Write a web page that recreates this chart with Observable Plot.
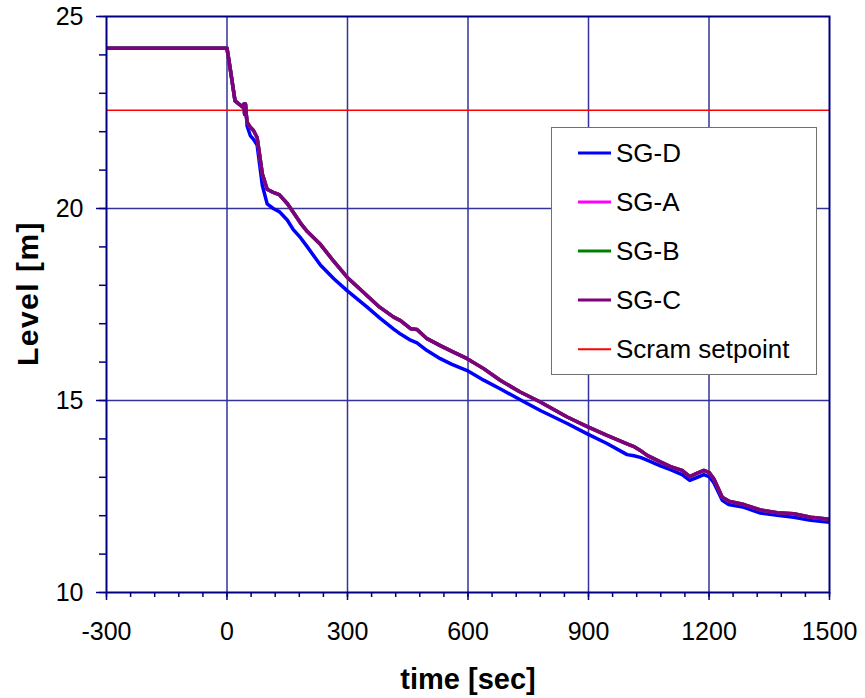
<!DOCTYPE html>
<html>
<head>
<meta charset="utf-8">
<script src="https://cdn.jsdelivr.net/npm/d3@7"></script>
<script src="https://cdn.jsdelivr.net/npm/@observablehq/plot@0.6"></script>
<style>
  body { margin: 0; background: #fff; font-family: "Liberation Sans", Arial, sans-serif; }
  #chart { position: relative; width: 865px; height: 698px; }
  .legend { position: absolute; left: 551px; top: 127px; width: 264px; height: 246px;
            border: 1.5px solid #707070; background: #fff; }
  .row { position: relative; height: 49.2px; }
  .row .sw { position: absolute; left: 26px; top: 50%; width: 33px; transform: translateY(-50%); }
  .row span { position: absolute; left: 64px; top: 50%; transform: translateY(-50%);
              font-size: 26px; line-height: 1; color: #000; white-space: nowrap; }
</style>
</head>
<body>
<div id="chart"></div>
<script>
// Steam generator level transient: time [s] and level [m] for each SG
const time = [-300, 0, 10, 20, 30, 38, 42, 44, 46, 48, 50, 58, 66, 75, 88, 100, 115, 130, 150, 165,
  183, 200, 233, 266, 299, 349, 380, 415, 432, 457, 473, 498, 531, 560, 598, 639, 681, 730, 780, 847,
  897, 946, 996, 1013, 1029, 1046, 1079, 1104, 1133, 1152, 1171, 1187, 1200, 1212, 1233, 1249, 1287,
  1328, 1370, 1411, 1453, 1500];

const sgD = [24.17, 24.17, 23.5, 22.8, 22.72, 22.65, 22.72, 22.45, 22.72, 22.45, 22.15, 21.9, 21.8, 21.65,
  20.6, 20.12, 20.0, 19.92, 19.7, 19.45, 19.24, 19.0, 18.52, 18.17, 17.86, 17.43, 17.15, 16.86, 16.73,
  16.57, 16.5, 16.30, 16.09, 15.94, 15.78, 15.53, 15.3, 15.02, 14.74, 14.4, 14.13, 13.88, 13.59, 13.56,
  13.52, 13.45, 13.30, 13.20, 13.07, 12.92, 13.00, 13.07, 13.02, 12.86, 12.40, 12.29, 12.22, 12.07,
  12.01, 11.96, 11.88, 11.83];

const sgA = [24.17, 24.17, 23.5, 22.8, 22.72, 22.65, 22.72, 22.45, 22.72, 22.45, 22.25, 22.12, 22.03, 21.85,
  20.9, 20.5, 20.42, 20.36, 20.13, 19.9, 19.62, 19.4, 19.06, 18.62, 18.21, 17.73, 17.43, 17.17, 17.08,
  16.87, 16.85, 16.61, 16.43, 16.28, 16.09, 15.83, 15.52, 15.22, 14.96, 14.57, 14.32, 14.09, 13.87, 13.80,
  13.70, 13.57, 13.40, 13.28, 13.18, 13.02, 13.11, 13.18, 13.13, 12.96, 12.48, 12.38, 12.29, 12.15,
  12.08, 12.05, 11.96, 11.91];

const sgB = [24.17, 24.17, 23.5, 22.8, 22.72, 22.65, 22.72, 22.45, 22.72, 22.45, 22.25, 22.12, 22.03, 21.85,
  20.9, 20.5, 20.42, 20.36, 20.13, 19.9, 19.62, 19.4, 19.06, 18.62, 18.21, 17.73, 17.43, 17.17, 17.08,
  16.87, 16.85, 16.61, 16.43, 16.28, 16.09, 15.83, 15.52, 15.22, 14.96, 14.57, 14.32, 14.09, 13.87, 13.80,
  13.70, 13.57, 13.40, 13.28, 13.18, 13.02, 13.11, 13.18, 13.13, 12.96, 12.48, 12.38, 12.29, 12.15,
  12.08, 12.05, 11.96, 11.91];

const sgC = [24.17, 24.17, 23.5, 22.8, 22.72, 22.65, 22.72, 22.45, 22.72, 22.45, 22.25, 22.12, 22.03, 21.85,
  20.9, 20.5, 20.42, 20.36, 20.13, 19.9, 19.62, 19.4, 19.06, 18.62, 18.21, 17.73, 17.43, 17.17, 17.08,
  16.87, 16.85, 16.61, 16.43, 16.28, 16.09, 15.83, 15.52, 15.22, 14.96, 14.57, 14.32, 14.09, 13.87, 13.80,
  13.70, 13.57, 13.40, 13.28, 13.18, 13.02, 13.11, 13.18, 13.13, 12.96, 12.48, 12.38, 12.29, 12.15,
  12.08, 12.05, 11.96, 11.91];

const scramSetpoint = 22.56;

const seriesNames = ["SG-D", "SG-A", "SG-B", "SG-C"];
const seriesColors = ["#0000ff", "#ff00ff", "#008000", "#800080"];
const scramLabel = "Scram setpoint";
const scramColor = "#ff0000";

const xTicks = [-300, 0, 300, 600, 900, 1200, 1500];
const xMinorTicks = d3.range(-300, 1501, 60);
const yTicks = [10, 15, 20, 25];
const yMinorTicks = d3.range(10, 26, 1);
const xTitle = "time [sec]";
const yTitle = "Level [m]";

// Long-format rows, drawn in legend order so SG-C ends up on top
const seriesLevels = [sgD, sgA, sgB, sgC];
const rows = seriesNames.flatMap((name, k) =>
  time.map((t, i) => ({ name, t, level: seriesLevels[k][i] })));

const navy = "#000080";
const grid = "#333399";

const chart = Plot.plot({
  width: 865,
  height: 698,
  marginLeft: 106,
  marginRight: 36,
  marginTop: 16,
  marginBottom: 106,
  style: { fontFamily: "'Liberation Sans', Arial, sans-serif", background: "#fff", color: "#000" },
  x: { domain: [-300, 1500] },
  y: { domain: [10, 25] },
  color: { domain: seriesNames, range: seriesColors },
  marks: [
    Plot.ruleX(xTicks.slice(1, -1), { stroke: grid, strokeWidth: 1.5 }),
    Plot.ruleY(yTicks.slice(1, -1), { stroke: grid, strokeWidth: 1.5 }),
    Plot.ruleY([scramSetpoint], { stroke: scramColor, strokeWidth: 1.5 }),
    Plot.line(rows, { x: "t", y: "level", z: "name", stroke: "name", strokeWidth: 3.5,
                      strokeLinejoin: "round", strokeLinecap: "butt" }),
    Plot.frame({ stroke: navy, strokeWidth: 2 }),
    Plot.axisX(xMinorTicks, { tickSize: 5, tickFormat: () => "", stroke: navy, strokeWidth: 1.5, label: null }),
    Plot.axisY(yMinorTicks, { tickSize: 7, tickFormat: () => "", stroke: navy, strokeWidth: 1.5, label: null }),
    Plot.axisX(xTicks, { tickSize: 8, tickPadding: 22, tickFormat: d => `${d}`, fontSize: 25,
                         stroke: navy, strokeWidth: 1.5, fill: "#000", label: null }),
    Plot.axisY(yTicks, { tickSize: 10, tickPadding: 13, tickFormat: d => `${d}`, fontSize: 25,
                         stroke: navy, strokeWidth: 1.5, fill: "#000", label: null }),
    Plot.text([xTitle], { text: d => d, frameAnchor: "bottom", dy: 87, fontSize: 29,
                          textAnchor: "middle", lineAnchor: "middle",
                          fontWeight: "bold", fill: "#000" }),
    Plot.text([yTitle], { text: d => d, frameAnchor: "left", dx: -78, dy: -11, rotate: -90,
                          textAnchor: "middle", lineAnchor: "middle",
                          fontSize: 30, fontWeight: "bold", fill: "#000" })
  ]
});

// Slightly wider tracking on the vertical axis title
d3.select(chart).selectAll("text").filter(function () { return this.textContent === yTitle; })
  .style("letter-spacing", "1.5px");

const host = document.getElementById("chart");
host.appendChild(chart);

// Legend box inside the plot area
const legend = document.createElement("div");
legend.className = "legend";
const entries = seriesNames.map((n, i) => ({ label: n, color: seriesColors[i], width: 3 }))
  .concat([{ label: scramLabel, color: scramColor, width: 1.5 }]);
for (const e of entries) {
  const row = document.createElement("div");
  row.className = "row";
  const sw = document.createElement("div");
  sw.className = "sw";
  sw.style.height = e.width + "px";
  sw.style.background = e.color;
  const span = document.createElement("span");
  span.textContent = e.label;
  row.appendChild(sw);
  row.appendChild(span);
  legend.appendChild(row);
}
host.appendChild(legend);
</script>
</body>
</html>
